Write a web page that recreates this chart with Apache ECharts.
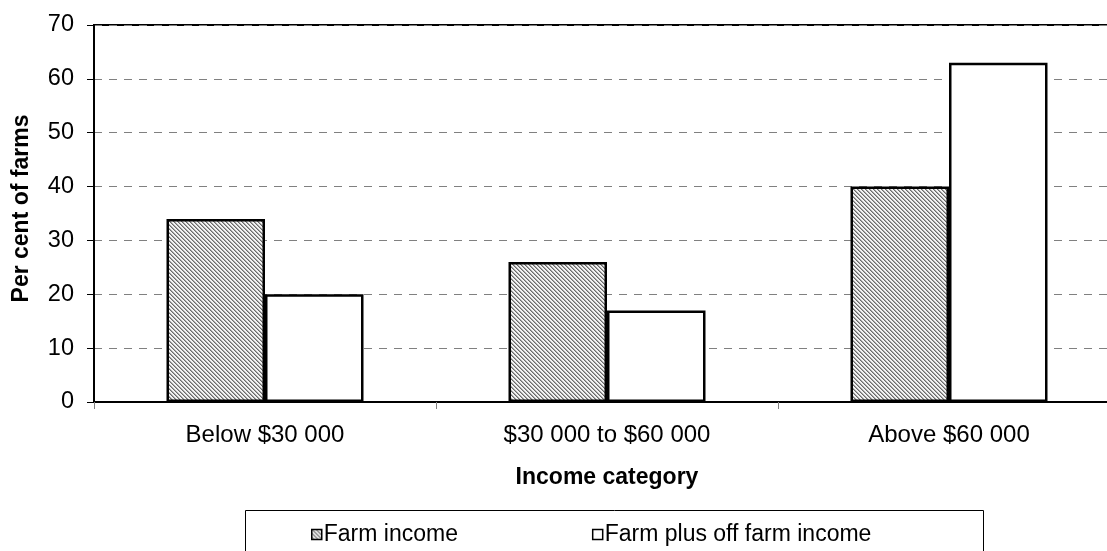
<html>
<head>
<meta http-equiv="Content-Type" content="text/html; charset=utf-8">
<script type="text/javascript" src="https://cdn.jsdelivr.net/npm/echarts@6/dist/echarts.min.js"></script>
<style>
html, body { margin: 0; padding: 0; background: #fff; }
#main { width: 1107px; height: 551px; }
</style>
</head>
<body>
<div id="main"></div>
<script type="text/javascript">
var categories = ['Below $30 000', '$30 000 to $60 000', 'Above $60 000'];
var farmIncome = [34, 26, 40];
var farmPlusOff = [20, 17, 63];
var seriesNames = ['Farm income', 'Farm plus off farm income'];
var yTicks = { min: 0, max: 70, interval: 10 };

// fine hatch fill used for the first series
function makeHatch() {
	var c = document.createElement('canvas');
	c.width = 4; c.height = 4;
	var ctx = c.getContext('2d');
	for (var x = 0; x < 4; x++) {
		for (var y = 0; y < 4; y++) {
			var k = (x - y + 8) % 4;
			ctx.fillStyle = k == 0 ? '#6a6a6a' : (k == 1 ? '#a8a8a8' : '#f2f2f2');
			ctx.fillRect(x, y, 1, 1);
		}
	}
	return c;
}
var hatch = { image: makeHatch(), repeat: 'repeat' };

var font = 'Liberation Sans, Arial, sans-serif';
var myChart = echarts.init(document.getElementById('main'));
var option = {
	animation: false,
	textStyle: { fontFamily: font },
	grid: {
		left: 94, top: 25, right: -13, bottom: 149,
		outerBoundsMode: 'none',
		show: true, borderColor: '#000', borderWidth: 2, backgroundColor: 'transparent'
	},
	legend: {
		left: 306, top: 518,
		itemWidth: 10, itemHeight: 10, itemGap: 134,
		icon: 'rect',
		itemStyle: { borderWidth: 1.5 },
		textStyle: { fontFamily: font, fontSize: 23, color: '#000', padding: [0, 0, 0, -3] },
		data: seriesNames
	},
	xAxis: {
		type: 'category',
		data: categories,
		axisLine: { lineStyle: { color: '#000', width: 2 } },
		axisTick: { show: true, length: 7, lineStyle: { color: '#808080', width: 1 } },
		axisLabel: { color: '#000', fontSize: 24, fontFamily: font, margin: 21 },
		splitLine: { show: false }
	},
	yAxis: {
		type: 'value',
		min: yTicks.min, max: yTicks.max, interval: yTicks.interval,
		axisLine: { show: true, lineStyle: { color: '#000', width: 2 } },
		axisTick: { show: true, length: 7, lineStyle: { color: '#000', width: 1 } },
		axisLabel: { color: '#000', fontSize: 23.5, fontFamily: font, margin: 20 },
		splitLine: { show: true, lineStyle: { color: '#808080', width: 1, type: [8, 7] } }
	},
	graphic: [
		{
			type: 'text',
			x: 22, y: 208.5, rotation: Math.PI / 2,
			style: {
				text: 'Per cent of farms', fill: '#000',
				font: 'bold 23px ' + font, align: 'center', verticalAlign: 'middle'
			}
		},
		{
			type: 'text',
			x: 607, y: 478,
			style: {
				text: 'Income category', fill: '#000',
				font: 'bold 23px ' + font, align: 'center', verticalAlign: 'middle'
			}
		},
		{
			type: 'rect', z: -1,
			shape: { x: 245.5, y: 510.5, width: 738, height: 60 },
			style: { fill: '#fff', stroke: '#000', lineWidth: 1 }
		}
	],
	series: [
		{
			name: seriesNames[0], type: 'bar', data: farmIncome,
			barWidth: 98.5, barGap: '0%',
			itemStyle: { color: hatch, borderColor: '#000', borderWidth: 2.5 }
		},
		{
			name: seriesNames[1], type: 'bar', data: farmPlusOff,
			barWidth: 98.5, barGap: '0%',
			itemStyle: { color: '#fff', borderColor: '#000', borderWidth: 2.5 }
		}
	]
};
myChart.setOption(option);
</script>
</body>
</html>
